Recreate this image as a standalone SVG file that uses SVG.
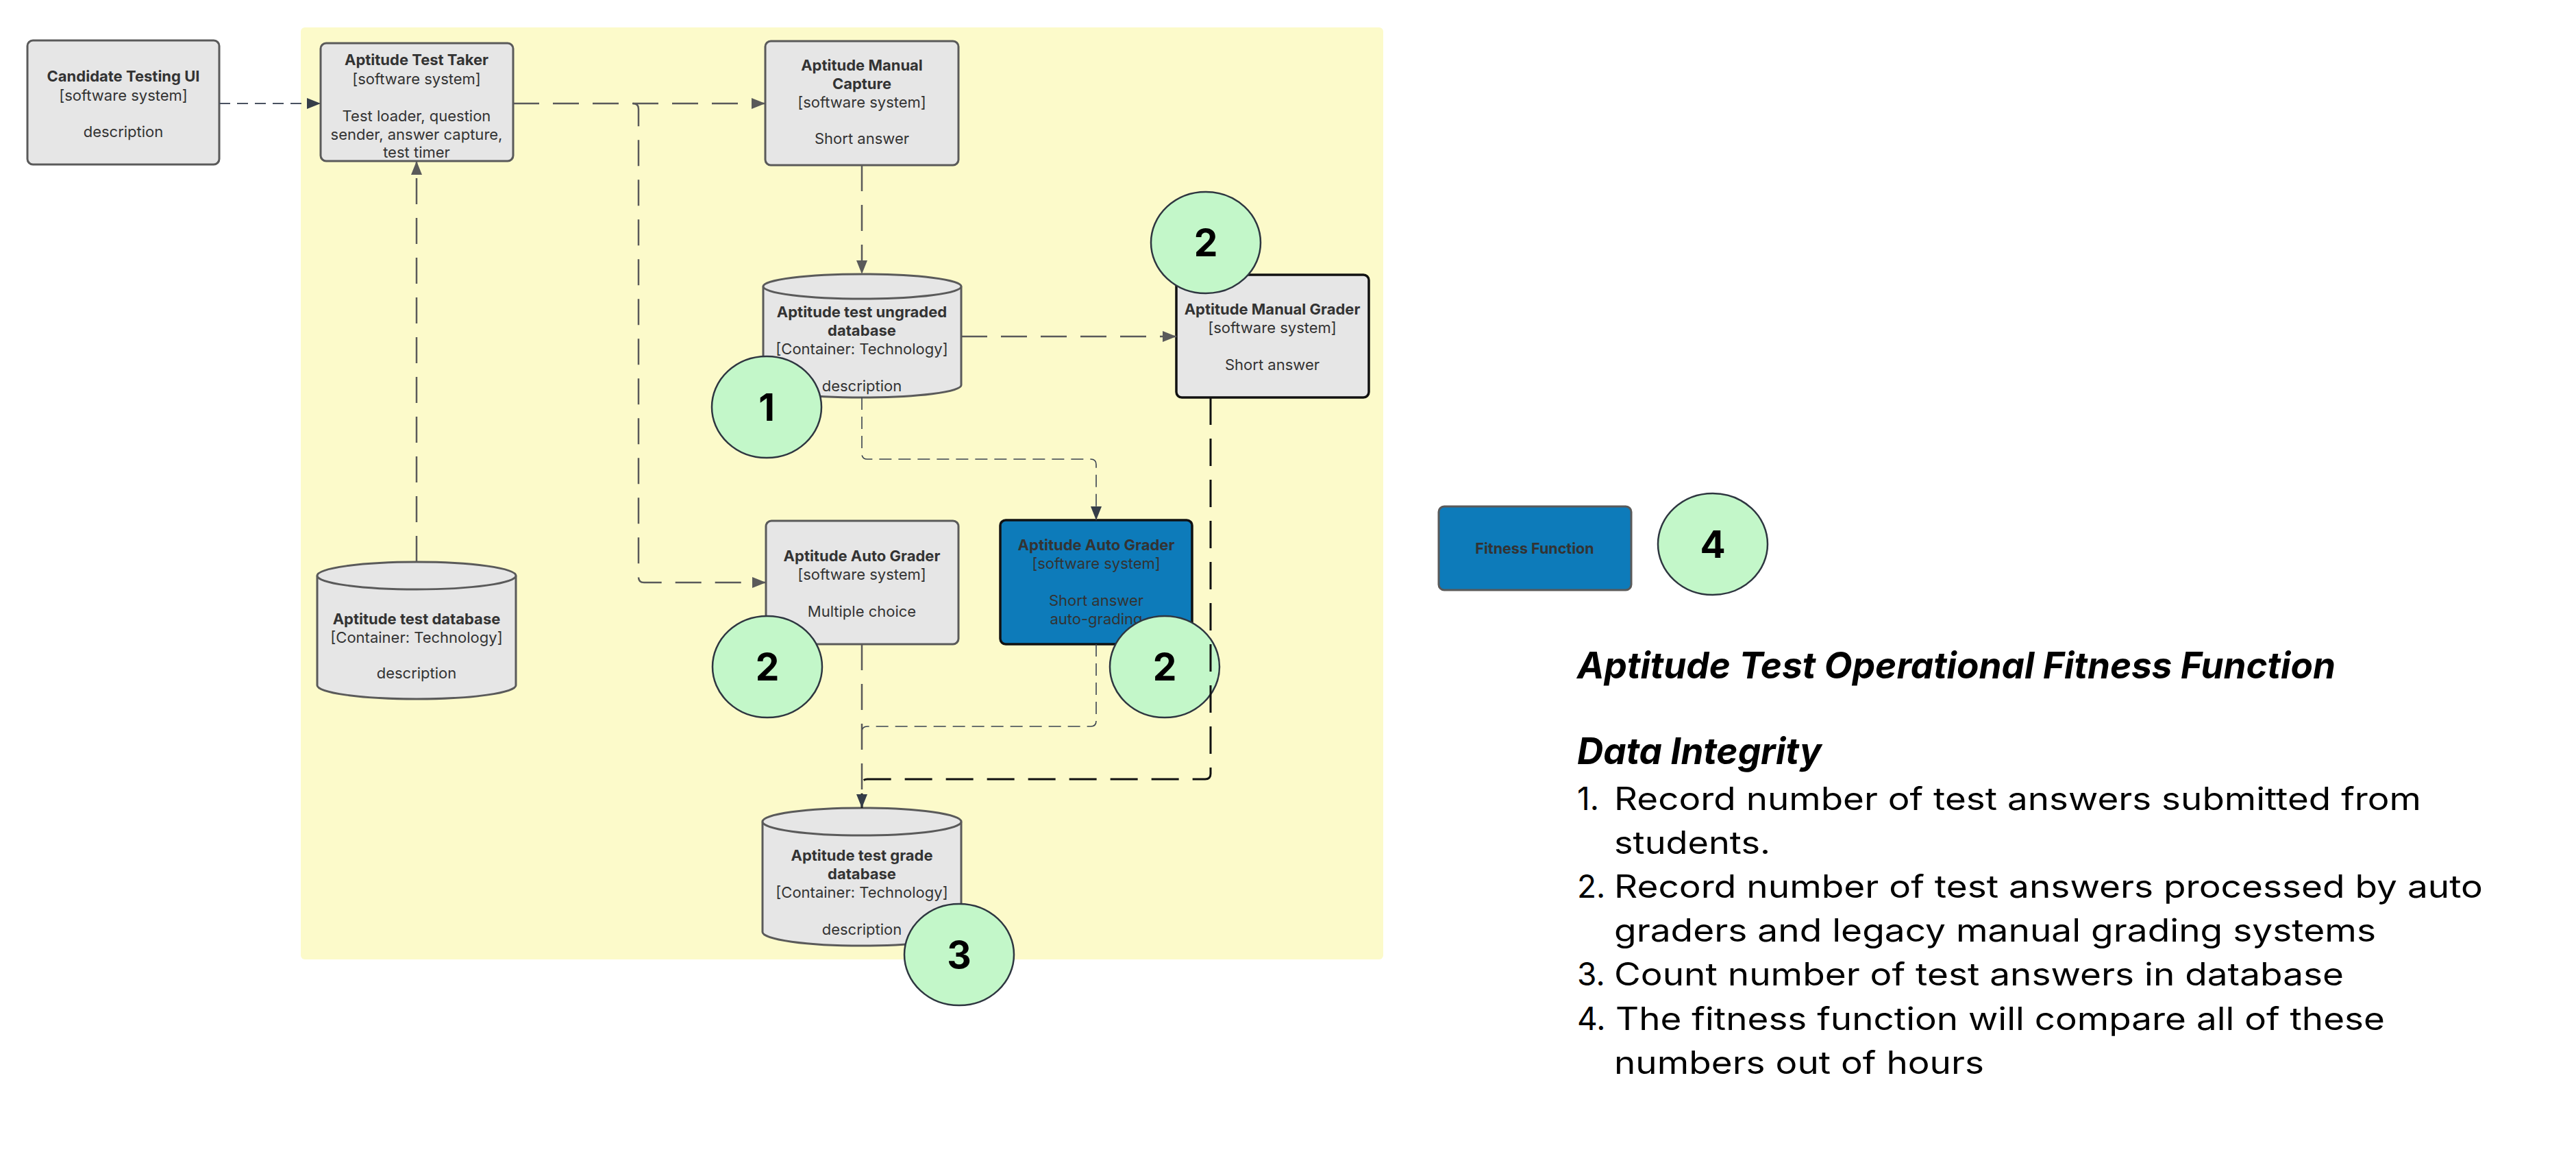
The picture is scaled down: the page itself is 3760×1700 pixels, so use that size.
<svg xmlns="http://www.w3.org/2000/svg" width="3760" height="1700" viewBox="0 0 3760 1700">
<style>
.box{fill:#e6e6e6;stroke:#5a5a5a;stroke-width:3}
.sel{fill:#e6e6e6;stroke:#111;stroke-width:3.5}
.blue{fill:#0d7bba;stroke:#111;stroke-width:3.5}
.fit{fill:#0d7bba;stroke:#5a5a5a;stroke-width:3}
.cyl{fill:#e6e6e6;stroke:#5a5a5a;stroke-width:3}
.t{font-family:Inter,"Liberation Sans",sans-serif;font-size:22px;fill:#333;text-anchor:middle}
.b{font-weight:700}
.badge{fill:#c3f7c9;stroke:#2e3640;stroke-width:2.5}
.num{font-family:Inter,"Liberation Sans",sans-serif;font-size:55px;font-weight:700;fill:#000;text-anchor:middle}
.c{fill:none}
.main{stroke:#5a5a5a;stroke-width:2.5;stroke-dasharray:38 20}
.cand{stroke:#4a5260;stroke-width:2;stroke-dasharray:16 10}
.thin{stroke:#3a4350;stroke-width:1.6;stroke-dasharray:18 10}
.blk{stroke:#111;stroke-width:3;stroke-dasharray:40 20}
.h{font-family:Inter,"Liberation Sans",sans-serif;font-weight:700;font-style:italic;font-size:54px;fill:#000}
.li{font-family:Inter,"Liberation Sans",sans-serif;font-size:46px;fill:#000}
</style>
<defs>
<marker id="ag" markerUnits="userSpaceOnUse" markerWidth="20" markerHeight="16" viewBox="0 0 20 16" refX="20" refY="8" orient="auto"><path d="M0,0 L20,8 L0,16 z" fill="#5a5a5a"/></marker>
<marker id="ad" markerUnits="userSpaceOnUse" markerWidth="20" markerHeight="16" viewBox="0 0 20 16" refX="20" refY="8" orient="auto"><path d="M0,0 L20,8 L0,16 z" fill="#353d48"/></marker>
</defs>
<rect x="439" y="40" width="1580" height="1360" rx="6" fill="#fcfaca"/>

<g id="candidate-testing-ui">
<rect class="box" x="40" y="59" width="280" height="181" rx="8"/>
<text class="t b" x="180" y="119">Candidate Testing UI</text>
<text class="t" x="180" y="147">[software system]</text>
<text class="t" x="180" y="200">description</text>
</g>
<g id="aptitude-test-taker">
<rect class="box" x="468" y="63" width="281" height="172" rx="8"/>
<text class="t b" x="608" y="95">Aptitude Test Taker</text>
<text class="t" x="608" y="123">[software system]</text>
<text class="t" x="608" y="177">Test loader, question</text>
<text class="t" x="608" y="204">sender, answer capture,</text>
<text class="t" x="608" y="230">test timer</text>
</g>
<g id="aptitude-manual-capture">
<rect class="box" x="1117" y="60" width="282" height="181" rx="8"/>
<text class="t b" x="1258" y="103">Aptitude Manual</text>
<text class="t b" x="1258" y="130">Capture</text>
<text class="t" x="1258" y="157">[software system]</text>
<text class="t" x="1258" y="210">Short answer</text>
</g>
<g id="aptitude-test-ungraded-database">
<path class="cyl" d="M1114,418 A144.5,18 0 0 1 1403,418 V562 A144.5,18 0 0 1 1114,562 Z"/>
<path class="cyl" fill="none" d="M1114,418 A144.5,18 0 0 0 1403,418"/>
<text class="t b" x="1258" y="463">Aptitude test ungraded</text>
<text class="t b" x="1258" y="490">database</text>
<text class="t" x="1258" y="517">[Container: Technology]</text>
<text class="t" x="1258" y="571">description</text>
</g>
<g id="aptitude-manual-grader">
<rect class="sel" x="1717" y="401" width="281" height="179" rx="8"/>
<text class="t b" x="1857" y="459">Aptitude Manual Grader</text>
<text class="t" x="1857" y="486">[software system]</text>
<text class="t" x="1857" y="540">Short answer</text>
</g>
<g id="aptitude-test-database">
<path class="cyl" d="M463,840 A145,20 0 0 1 753,840 V1000 A145,20 0 0 1 463,1000 Z"/>
<path class="cyl" fill="none" d="M463,840 A145,20 0 0 0 753,840"/>
<text class="t b" x="608" y="911">Aptitude test database</text>
<text class="t" x="608" y="938">[Container: Technology]</text>
<text class="t" x="608" y="990">description</text>
</g>
<g id="aptitude-auto-grader-mc">
<rect class="box" x="1118" y="760" width="281" height="180" rx="8"/>
<text class="t b" x="1258" y="819">Aptitude Auto Grader</text>
<text class="t" x="1258" y="846">[software system]</text>
<text class="t" x="1258" y="900">Multiple choice</text>
</g>
<g id="aptitude-auto-grader-sa">
<rect class="blue" x="1460" y="759" width="280" height="181" rx="8"/>
<text class="t b" x="1600" y="803">Aptitude Auto Grader</text>
<text class="t" x="1600" y="830">[software system]</text>
<text class="t" x="1600" y="884">Short answer</text>
<text class="t" x="1600" y="911">auto-grading</text>
</g>
<g id="aptitude-test-grade-database">
<path class="cyl" d="M1113,1199 A145,20 0 0 1 1403,1199 V1360 A145,20 0 0 1 1113,1360 Z"/>
<path class="cyl" fill="none" d="M1113,1199 A145,20 0 0 0 1403,1199"/>
<text class="t b" x="1258" y="1256">Aptitude test grade</text>
<text class="t b" x="1258" y="1283">database</text>
<text class="t" x="1258" y="1310">[Container: Technology]</text>
<text class="t" x="1258" y="1364">description</text>
</g>
<g id="fitness-function">
<rect class="fit" x="2100" y="739" width="281" height="122" rx="8"/>
<text class="t b" x="2240" y="808" style="font-size:21.5px">Fitness Function</text>
</g>

<g id="badges">
<g id="badge-2-manual-grader"><ellipse class="badge" cx="1760" cy="354" rx="80" ry="74"/><text class="num" x="1760" y="374">2</text></g>
<g id="badge-1"><ellipse class="badge" cx="1119" cy="594" rx="80" ry="74"/><text class="num" x="1119" y="614">1</text></g>
<g id="badge-2-auto-mc"><ellipse class="badge" cx="1120" cy="973" rx="80" ry="74"/><text class="num" x="1120" y="993">2</text></g>
<g id="badge-2-auto-sa"><ellipse class="badge" cx="1700" cy="973" rx="80" ry="74"/><text class="num" x="1700" y="993">2</text></g>
<g id="badge-3"><ellipse class="badge" cx="1400" cy="1393" rx="80" ry="74"/><text class="num" x="1400" y="1413">3</text></g>
<g id="badge-4"><ellipse class="badge" cx="2500" cy="794" rx="80" ry="74"/><text class="num" x="2500" y="814">4</text></g>
</g>

<g id="connectors">
<path class="c cand" d="M320,151 H468" marker-end="url(#ad)"/>
<path class="c main" d="M749,151 H1117" marker-end="url(#ag)"/>
<path class="c main" d="M924,151 Q932,151 932,159 V842 Q932,850 940,850 H1118" marker-end="url(#ag)"/>
<path class="c main" d="M608,820 V235" marker-end="url(#ag)"/>
<path class="c main" d="M1258,241 V400" marker-end="url(#ag)"/>
<path class="c main" d="M1403,491 H1717" marker-end="url(#ag)"/>
<path class="c thin" d="M1258,580 V662 Q1258,670 1266,670 H1592 Q1600,670 1600,678 V759" marker-end="url(#ad)"/>
<path class="c thin" d="M1600,940 V1052 Q1600,1060 1592,1060 H1266 Q1258,1060 1258,1068"/>
<path class="c main" d="M1258,940 V1177"/>
<path class="c blk" d="M1767,580 V1129 Q1767,1137 1759,1137 H1266 Q1258,1137 1258,1145 V1179" marker-end="url(#ad)"/>
</g>

<g id="notes">
<text class="h" x="2302" y="990" textLength="1107" lengthAdjust="spacingAndGlyphs">Aptitude Test Operational Fitness Function</text>
<text class="h" x="2302" y="1115" textLength="357" lengthAdjust="spacingAndGlyphs">Data Integrity</text>
<text class="li" x="2302" y="1182">1.</text>
<text class="li" x="2356" y="1182" textLength="1178" lengthAdjust="spacingAndGlyphs">Record number of test answers submitted from</text>
<text class="li" x="2356" y="1246" textLength="228" lengthAdjust="spacingAndGlyphs">students.</text>
<text class="li" x="2302" y="1310">2.</text>
<text class="li" x="2356" y="1310" textLength="1268" lengthAdjust="spacingAndGlyphs">Record number of test answers processed by auto</text>
<text class="li" x="2356" y="1374" textLength="1112" lengthAdjust="spacingAndGlyphs">graders and legacy manual grading systems</text>
<text class="li" x="2302" y="1438">3.</text>
<text class="li" x="2356" y="1438" textLength="1065" lengthAdjust="spacingAndGlyphs">Count number of test answers in database</text>
<text class="li" x="2302" y="1503">4.</text>
<text class="li" x="2358" y="1503" textLength="1123" lengthAdjust="spacingAndGlyphs">The fitness function will compare all of these</text>
<text class="li" x="2356" y="1567" textLength="540" lengthAdjust="spacingAndGlyphs">numbers out of hours</text>
</g>
</svg>
